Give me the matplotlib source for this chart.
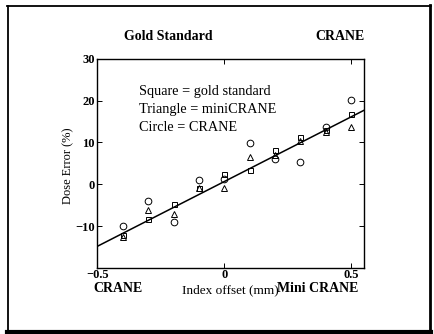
import matplotlib
matplotlib.use("Agg")
import matplotlib.pyplot as plt
from matplotlib.lines import Line2D
import numpy as np

plt.rcParams['font.family'] = ['Liberation Serif', 'DejaVu Serif']

# Index offset (mm)
offset = [-0.4, -0.3, -0.2, -0.1, 0.0, 0.1, 0.2, 0.3, 0.4, 0.5]
# Dose error (%) for each detector
gold_standard = [-12.0, -8.3, -4.7, -1.0, 2.5, 3.3, 8.1, 11.4, 12.9, 16.7]
mini_crane = [-12.5, -6.1, -7.1, -0.9, -0.9, 6.4, 7.0, 10.3, 12.5, 13.8]
crane = [-9.9, -3.9, -9.0, 1.0, 1.2, 9.8, 6.0, 5.3, 13.6, 20.2]

# Linear fit line: dose error = slope * offset + intercept
fit_slope = 30.9
fit_intercept = 0.65

x_ticks = [-0.5, 0, 0.5]
x_tick_labels = ['\u22120.5', '0', '0.5']
y_ticks = [-10, 0, 10, 20, 30]
y_tick_labels = ['\u221210', '0', '10', '20', '30']

legend_lines = ['Square = gold standard', 'Triangle = miniCRANE', 'Circle = CRANE']

W, H = 435, 334
fig = plt.figure(figsize=(W / 100, H / 100), dpi=100)
ax = fig.add_axes([97.5 / W, 1 - 268 / H, (364 - 97.5) / W, (268 - 58.7) / H])

xlim = (-0.5, 0.551)
ax.set_xlim(*xlim)
ax.set_ylim(-20, 30)

mk = dict(linestyle='none', markerfacecolor='none', markeredgecolor='black',
          markeredgewidth=0.7)
ax.plot(offset, gold_standard, marker='s', markersize=3.6, **mk)
ax.plot(offset, mini_crane, marker='^', markersize=4.6, **mk)
ax.plot(offset, crane, marker='o', markersize=4.8, **mk)

xf = np.array(xlim)
ax.plot(xf, fit_slope * xf + fit_intercept, color='black', linewidth=1.1)

ax.set_xticks(x_ticks)
ax.set_xticklabels(x_tick_labels, fontsize=9, fontweight='bold')
ax.set_yticks(y_ticks)
ax.set_yticklabels(y_tick_labels, fontsize=9, fontweight='bold')
ax.tick_params(direction='in', length=3.5, width=0.7, top=True, right=True, pad=2)
ax.tick_params(axis='x', pad=1)
for s in ax.spines.values():
    s.set_linewidth(1.0)

for i, t in enumerate(legend_lines):
    ax.text(-0.336, 22.1 - i * 4.3, t, fontsize=10.3, ha='left', va='center')

fig.text(168 / W, 1 - 37 / H, 'Gold Standard', fontsize=10, fontweight='bold',
         ha='center', va='center')
fig.text(340 / W, 1 - 37 / H, 'CRANE', fontsize=10, fontweight='bold',
         ha='center', va='center')
fig.text(118 / W, 1 - 288 / H, 'CRANE', fontsize=10, fontweight='bold',
         ha='center', va='center')
fig.text(317.5 / W, 1 - 288 / H, 'Mini CRANE', fontsize=10, fontweight='bold',
         ha='center', va='center')
fig.text(230.5 / W, 1 - 290 / H, 'Index offset (mm)', fontsize=9.5,
         ha='center', va='center')
fig.text(68 / W, 1 - 166 / H, 'Dose Error (%)', fontsize=9, rotation=90,
         ha='center', va='center')

# Page frame: thin top/left edges, heavier right/bottom edges
fig.add_artist(Line2D([8 / W, 8 / W], [1 - 5.5 / H, 1 - 331 / H], color='black',
                      linewidth=1.3, transform=fig.transFigure))
fig.add_artist(Line2D([7.5 / W, 431 / W], [1 - 5.5 / H, 1 - 5.5 / H], color='black',
                      linewidth=1.3, transform=fig.transFigure))
fig.add_artist(Line2D([430.5 / W, 430.5 / W], [1 - 5 / H, 1 - 333 / H], color='black',
                      linewidth=2.0, transform=fig.transFigure))
fig.add_artist(Line2D([7.5 / W, 431.5 / W], [1 - 331.5 / H, 1 - 331.5 / H], color='black',
                      linewidth=3.0, transform=fig.transFigure))

fig.savefig('out.png', dpi=100)
